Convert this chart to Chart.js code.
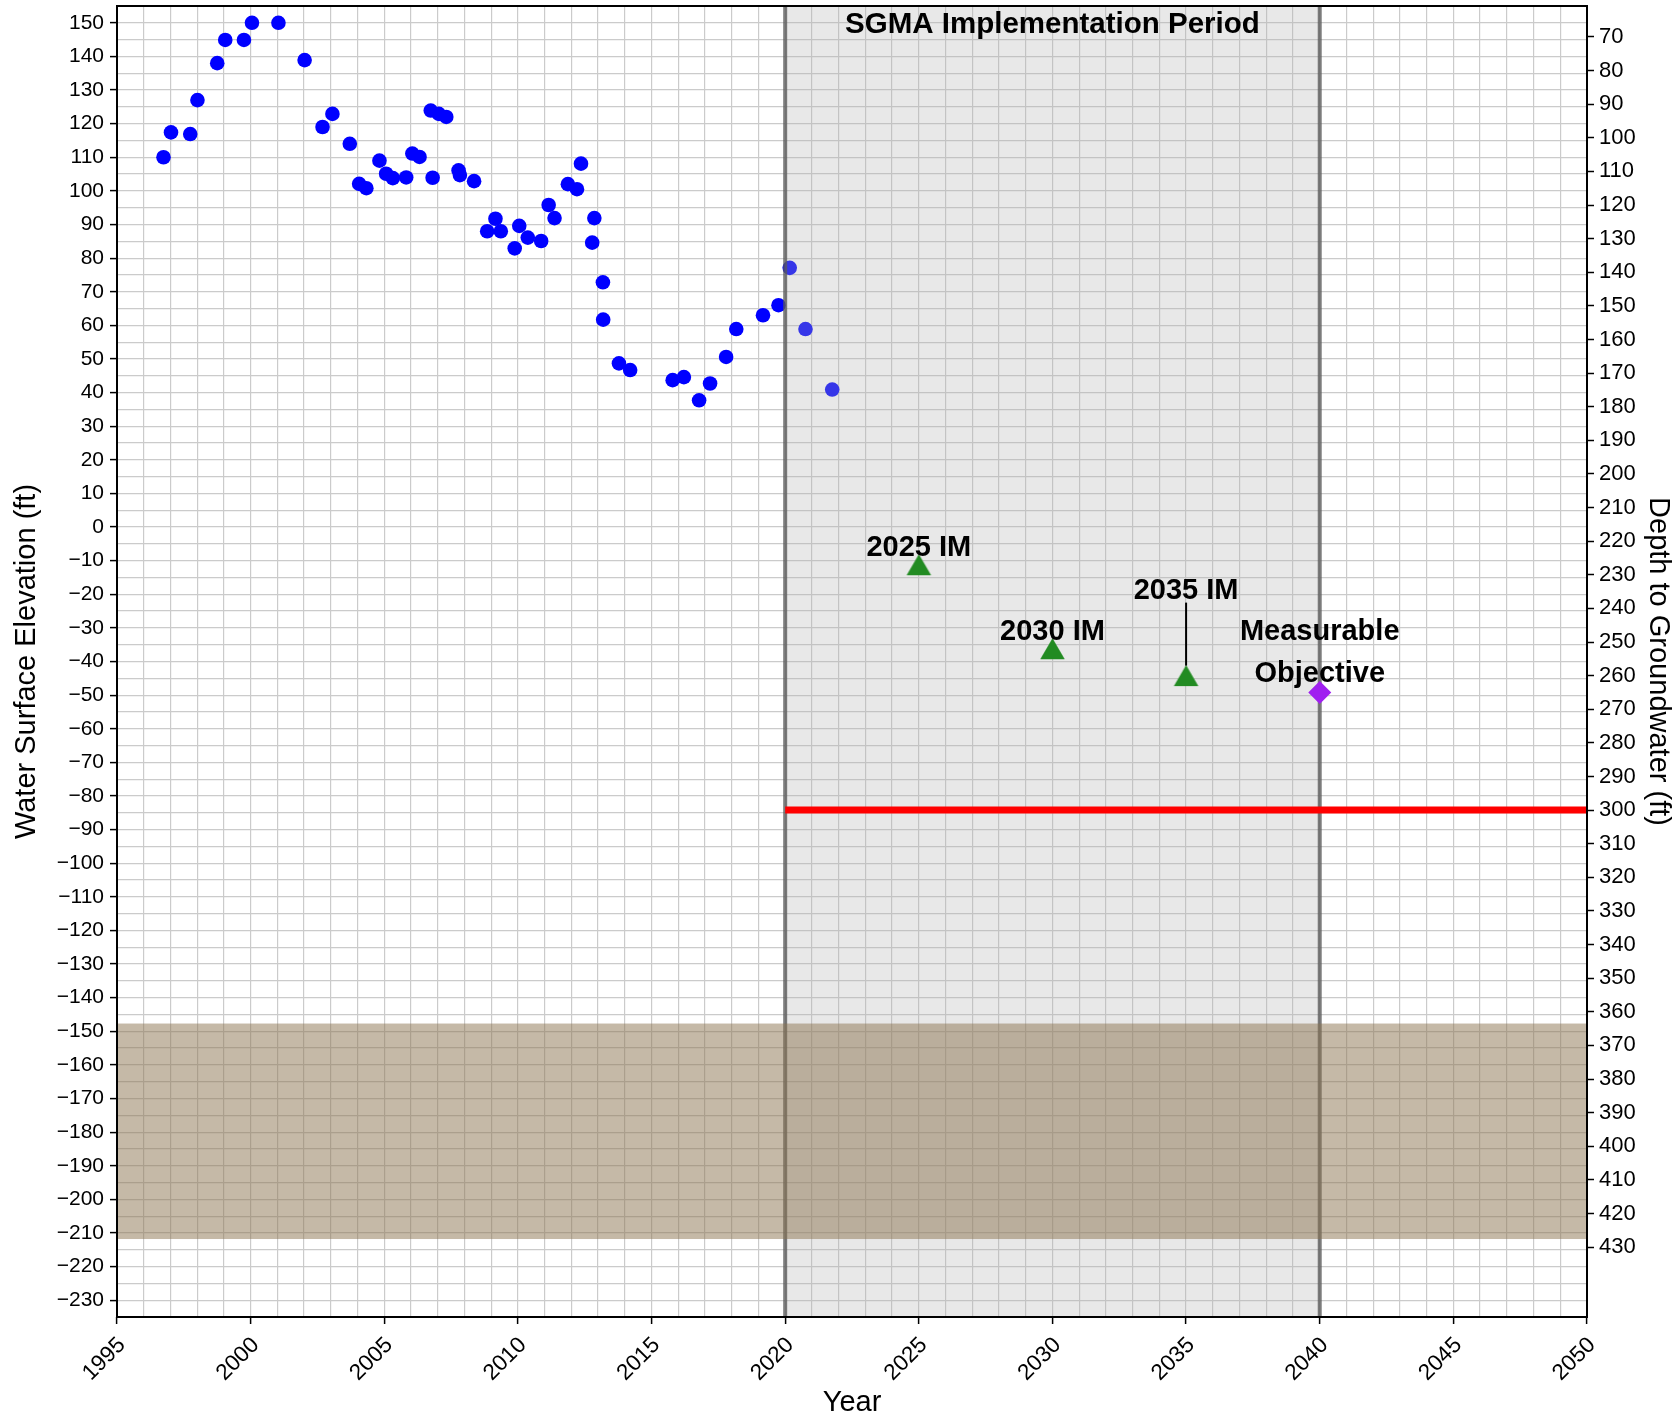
<!DOCTYPE html>
<html>
<head>
<meta charset="utf-8">
<title>Water Surface Elevation</title>
<script src="https://cdn.jsdelivr.net/npm/chart.js@4.4.1/dist/chart.umd.min.js"></script>
<style>
  html, body { margin: 0; padding: 0; background: #fff; }
  canvas { display: block; }
</style>
</head>
<body>
<canvas id="hydrograph" width="1679" height="1421"></canvas>
<script>
// measured water surface elevations (ft)
const obsYears = [
  1996.74, 1997.02, 1997.74, 1998.01, 1998.75, 1999.05, 1999.75, 2000.05, 2001.04, 2002.02,
  2002.69, 2003.06, 2003.71, 2004.06, 2004.33, 2004.82, 2005.07, 2005.32, 2005.82, 2006.05,
  2006.32, 2006.74, 2006.81, 2007.04, 2007.32, 2007.78, 2007.83, 2008.36, 2008.85, 2009.16,
  2009.36, 2009.88, 2010.05, 2010.37, 2010.87, 2011.15, 2011.37, 2011.87, 2012.21, 2012.36,
  2012.78, 2012.86, 2013.18, 2013.19, 2013.78, 2014.20, 2015.79, 2016.21, 2016.78, 2017.19,
  2017.79, 2018.17, 2019.17, 2019.75, 2020.17, 2020.76, 2021.76
];
const obsElevation = [
  110.0, 117.4, 116.9, 127.0, 138.0, 144.9, 144.9, 150.0, 150.0, 138.9,
  119.0, 122.9, 114.0, 102.1, 100.8, 109.0, 105.1, 103.8, 104.0, 111.1,
  110.1, 123.9, 103.9, 122.9, 122.0, 106.1, 104.7, 102.9, 88.0, 91.7,
  88.0, 82.9, 89.6, 86.1, 85.1, 95.8, 91.9, 102.0, 100.5, 108.1,
  84.6, 91.9, 72.8, 61.7, 48.7, 46.7, 43.7, 44.6, 37.7, 42.7,
  50.6, 58.9, 63.0, 66.0, 77.1, 58.9, 40.9
];

// ground surface used for the depth axis
const groundSurface = 215.8;

// interim milestones
const imYears = [2025, 2030, 2035];
const imElevation = [-11.2, -36.2, -44.2];
const imLabels = ['2025 IM', '2030 IM', '2035 IM'];

// measurable objective
const moYears = [2040];
const moElevation = [-49.2];
const moLabel = ['Measurable', 'Objective'];

// minimum threshold (300 ft depth)
const mtYears = [2020, 2050];
const mtElevation = [-84.2, -84.2];

const sgmaPeriod = [2020, 2040];
const sgmaLabel = 'SGMA Implementation Period';
const screenBand = [-147.7, -211.8];

const xRange = [1995, 2050];
const elevRange = [-235, 155];
const depthTicks = [];
for (let d = 70; d <= 430; d += 10) depthTicks.push(d);

const FONT = '"Liberation Sans", Arial, Helvetica, sans-serif';
Chart.defaults.font.family = FONT;
Chart.defaults.color = '#000';

const toPts = (xs, ys) => xs.map((x, i) => ({ x: x, y: ys[i] }));
const minus = v => (v < 0 ? '\u2212' + Math.abs(v) : String(v));
const gridColor = '#cbcbcb';

// up-triangle marker centred on its bounding box
function triangleMarker(w, h, color) {
  const c = document.createElement('canvas');
  c.width = Math.ceil(w) + 2;
  c.height = Math.ceil(h) + 2;
  const g = c.getContext('2d');
  const cx = c.width / 2, cy = c.height / 2;
  g.fillStyle = color;
  g.beginPath();
  g.moveTo(cx, cy - h / 2);
  g.lineTo(cx + w / 2, cy + h / 2);
  g.lineTo(cx - w / 2, cy + h / 2);
  g.closePath();
  g.fill();
  return c;
}
const imMarker = triangleMarker(24.5, 21, '#228b22');

// shaded period, screen band and period boundaries go on top of the observations
const overlayPlugin = {
  id: 'overlay',
  afterDatasetDraw(chart, args) {
    if (args.index !== 0) return;
    const { ctx, chartArea: a, scales: { x, y } } = chart;
    const x0 = x.getPixelForValue(sgmaPeriod[0]);
    const x1 = x.getPixelForValue(sgmaPeriod[1]);
    ctx.save();
    ctx.beginPath();
    ctx.rect(a.left, a.top, a.right - a.left, a.bottom - a.top);
    ctx.clip();
    ctx.fillStyle = 'rgba(180,180,180,0.3)';
    ctx.fillRect(x0, a.top, x1 - x0, a.bottom - a.top);
    ctx.strokeStyle = 'rgba(90,90,90,0.78)';
    ctx.lineWidth = 4;
    [x0, x1].forEach(px => {
      ctx.beginPath();
      ctx.moveTo(px, a.top);
      ctx.lineTo(px, a.bottom);
      ctx.stroke();
    });
    const yb0 = y.getPixelForValue(screenBand[0]);
    const yb1 = y.getPixelForValue(screenBand[1]);
    ctx.fillStyle = 'rgba(140,115,80,0.5)';
    ctx.fillRect(a.left, yb0, a.right - a.left, yb1 - yb0);
    ctx.restore();
  },
  afterDatasetsDraw(chart) {
    const { ctx, chartArea: a, scales: { x, y } } = chart;
    ctx.save();
    ctx.fillStyle = '#000';
    ctx.textAlign = 'center';
    ctx.textBaseline = 'alphabetic';
    ctx.font = 'bold 29.5px ' + FONT;
    ctx.fillText(sgmaLabel, x.getPixelForValue((sgmaPeriod[0] + sgmaPeriod[1]) / 2), a.top + 27);

    ctx.font = 'bold 29px ' + FONT;
    imYears.forEach((yr, i) => {
      const px = x.getPixelForValue(yr);
      const py = y.getPixelForValue(imElevation[i]);
      if (i === 2) {
        ctx.strokeStyle = '#000';
        ctx.lineWidth = 2;
        ctx.beginPath();
        ctx.moveTo(px, py - 73);
        ctx.lineTo(px, py - 10);
        ctx.stroke();
        ctx.fillText(imLabels[i], px, py - 77);
      } else {
        ctx.fillText(imLabels[i], px, py - 9);
      }
    });

    const mx = x.getPixelForValue(moYears[0]);
    const my = y.getPixelForValue(moElevation[0]);
    ctx.fillText(moLabel[0], mx, my - 52);
    ctx.fillText(moLabel[1], mx, my - 10);

    // axes frame
    ctx.strokeStyle = '#000';
    ctx.lineWidth = 2;
    ctx.strokeRect(a.left, a.top, a.right - a.left, a.bottom - a.top);
    ctx.restore();
  }
};

new Chart(document.getElementById('hydrograph'), {
  type: 'scatter',
  data: {
    datasets: [
      {
        label: 'Water Surface Elevation',
        data: toPts(obsYears, obsElevation),
        backgroundColor: '#0000ff',
        borderWidth: 0,
        pointRadius: 7.3,
        order: 4
      },
      {
        type: 'line',
        label: 'Minimum Threshold',
        data: toPts(mtYears, mtElevation),
        borderColor: '#ff0000',
        borderWidth: 7,
        pointRadius: 0,
        fill: false,
        order: 3
      },
      {
        label: 'Interim Milestones',
        data: toPts(imYears, imElevation),
        pointStyle: imMarker,
        borderWidth: 0,
        pointRadius: 12,
        order: 2
      },
      {
        label: 'Measurable Objective',
        data: toPts(moYears, moElevation),
        pointStyle: 'rectRot',
        backgroundColor: '#a020f0',
        borderWidth: 0,
        pointRadius: 11.5,
        order: 1
      }
    ]
  },
  options: {
    responsive: false,
    animation: false,
    devicePixelRatio: 1,
    layout: { autoPadding: false, padding: { top: 6, left: 0, right: 0, bottom: 0 } },
    plugins: { legend: { display: false }, tooltip: { enabled: false } },
    scales: {
      x: {
        type: 'linear',
        min: xRange[0],
        max: xRange[1],
        afterBuildTicks(scale) {
          const t = [];
          for (let v = xRange[0]; v <= xRange[1]; v++) t.push({ value: v });
          scale.ticks = t;
        },
        afterFit(scale) {
          scale.height = 104;
          scale.paddingLeft = 0;
          scale.paddingRight = 0;
        },
        border: { display: false },
        grid: {
          color: gridColor,
          lineWidth: 1.2,
          tickLength: 7,
          tickWidth: 1.5,
          tickColor: c => (c.tick && c.tick.value % 5 === 0 ? '#000' : 'rgba(0,0,0,0)')
        },
        ticks: {
          autoSkip: false,
          minRotation: 45,
          maxRotation: 45,
          padding: 8,
          labelOffset: 5,
          font: { size: 22.5 },
          callback: v => (v % 5 === 0 ? String(v) : '')
        },
        title: {
          display: true,
          text: 'Year',
          font: { size: 29 },
          padding: { top: 0, bottom: 1 }
        }
      },
      y: {
        type: 'linear',
        position: 'left',
        min: elevRange[0],
        max: elevRange[1],
        afterBuildTicks(scale) {
          const t = [];
          for (let v = -230; v <= 150; v += 5) t.push({ value: v });
          scale.ticks = t;
        },
        afterFit(scale) {
          scale.width = 117;
          scale.paddingTop = 0;
          scale.paddingBottom = 0;
        },
        border: { display: false },
        grid: {
          color: gridColor,
          lineWidth: 1.2,
          tickLength: 7,
          tickWidth: 1.5,
          tickColor: c => (c.tick && c.tick.value % 10 === 0 ? '#000' : 'rgba(0,0,0,0)')
        },
        ticks: {
          autoSkip: false,
          padding: 6,
          font: { size: 21 },
          callback: v => (v % 10 === 0 ? minus(v) : '')
        },
        title: {
          display: true,
          text: 'Water Surface Elevation (ft)',
          font: { size: 29 },
          padding: { top: 10, bottom: 0 }
        }
      },
      y2: {
        type: 'linear',
        position: 'right',
        reverse: true,
        min: groundSurface - elevRange[1],
        max: groundSurface - elevRange[0],
        afterBuildTicks(scale) {
          scale.ticks = depthTicks.map(v => ({ value: v }));
        },
        afterFit(scale) {
          scale.width = 92;
          scale.paddingTop = 0;
          scale.paddingBottom = 0;
        },
        border: { display: false },
        grid: {
          drawOnChartArea: false,
          tickLength: 7,
          tickWidth: 1.5,
          tickColor: '#000'
        },
        ticks: {
          autoSkip: false,
          padding: 5,
          font: { size: 22 },
          callback: v => String(v)
        },
        title: {
          display: true,
          text: 'Depth to Groundwater (ft)',
          font: { size: 29 },
          padding: { top: 4, bottom: 0 }
        }
      }
    }
  },
  plugins: [overlayPlugin]
});
</script>
</body>
</html>
